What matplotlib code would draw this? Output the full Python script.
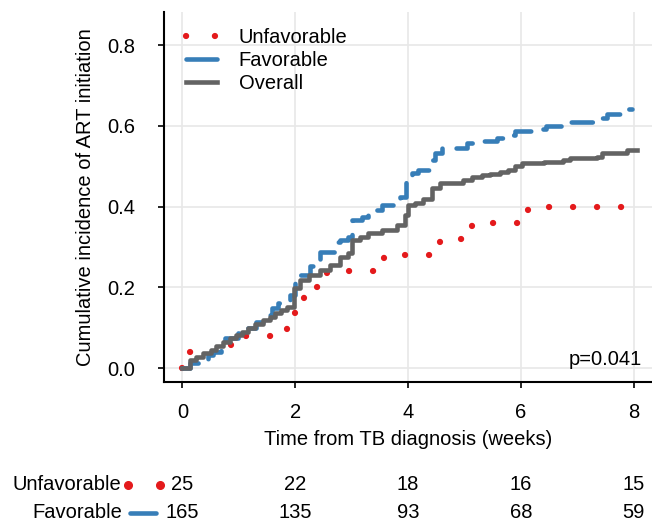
import matplotlib
matplotlib.use("Agg")
import matplotlib.pyplot as plt
import matplotlib.transforms as mtransforms
from matplotlib.lines import Line2D

plt.rcParams["font.family"] = ["Liberation Sans", "DejaVu Sans"]

# кривые кумулятивной частоты (ступенчатые, время в неделях)
unfav_t = [0, 0.14, 0.86, 1.86, 2.0, 2.15, 2.57, 3.58, 4.57, 5.14, 6.13, 7.9]
unfav_v = [0, 0.04, 0.08, 0.12, 0.16, 0.20, 0.24, 0.28, 0.32, 0.36, 0.40, 0.40]

fav_t = [0, 0.13, 0.3, 0.45, 0.55, 0.69, 0.75, 0.99, 1.13, 1.3, 1.46, 1.58, 1.7, 1.9,
         2.0, 2.26, 2.44, 2.73, 2.79, 2.94, 3.0, 3.18, 3.29, 3.53, 3.85, 3.97, 4.06,
         4.18, 4.42, 4.48, 4.6, 5.04, 5.28, 5.57, 5.75, 5.89, 6.19, 6.45, 6.84, 7.31,
         7.52, 7.87, 7.96]
fav_v = [0, 0.012, 0.024, 0.034, 0.041, 0.058, 0.074, 0.087, 0.099, 0.115, 0.132, 0.149,
         0.161, 0.181, 0.231, 0.252, 0.289, 0.313, 0.318, 0.326, 0.367, 0.375, 0.392,
         0.404, 0.425, 0.47, 0.483, 0.49, 0.516, 0.532, 0.545, 0.557, 0.563, 0.57,
         0.578, 0.588, 0.592, 0.6, 0.61, 0.619, 0.63, 0.641, 0.641]

all_t = [0, 0.13, 0.25, 0.37, 0.5, 0.6, 0.72, 0.84, 0.95, 1.05, 1.17, 1.29, 1.42, 1.55,
         1.65, 1.75, 1.85, 1.97, 2.09, 2.25, 2.44, 2.62, 2.79, 2.94, 3.0, 3.15, 3.29,
         3.53, 3.8, 3.94, 3.99, 4.12, 4.26, 4.42, 4.57, 4.98, 5.13, 5.3, 5.45, 5.63,
         5.77, 5.89, 6.01, 6.4, 6.75, 6.87, 7.34, 7.43, 7.87, 8.05]
all_v = [0, 0.02, 0.028, 0.037, 0.046, 0.054, 0.064, 0.074, 0.082, 0.09, 0.10, 0.11,
         0.12, 0.128, 0.136, 0.145, 0.152, 0.198, 0.218, 0.231, 0.243, 0.256, 0.276,
         0.285, 0.318, 0.326, 0.334, 0.342, 0.355, 0.38, 0.404, 0.408, 0.42, 0.446,
         0.458, 0.466, 0.474, 0.478, 0.482, 0.487, 0.49, 0.50, 0.507, 0.511, 0.516,
         0.52, 0.524, 0.532, 0.54, 0.54]

# таблица числа под риском
risk_times = [0, 2, 4, 6, 8]
risk_unfav = [25, 22, 18, 16, 15]
risk_fav = [165, 135, 93, 68, 59]

red = "#E41A1C"
blue = "#377EB8"
grey = "#636363"
fs = 14.5

fig = plt.figure(figsize=(6.52, 5.24), dpi=100)
ax = fig.add_axes([164 / 652, 1 - 382 / 524, 488 / 652, 370 / 524])

ax.step(unfav_t, unfav_v, where="post", color=red, lw=4.5, dashes=(0.02, 3.82),
        dash_capstyle="round", label="Unfavorable", zorder=3)
ax.step(fav_t, fav_v, where="post", color=blue, lw=3.3, dashes=(4.6, 3.1),
        dash_capstyle="round", label="Favorable", zorder=4)
ax.step(all_t, all_v, where="post", color=grey, lw=3.3, label="Overall", zorder=5)

ax.set_xlim(-0.325, 8.32)
ax.set_ylim(-0.034, 0.882)
ax.set_xticks([0, 2, 4, 6, 8])
ax.set_yticks([0.0, 0.2, 0.4, 0.6, 0.8])
ax.set_yticklabels(["0.0", "0.2", "0.4", "0.6", "0.8"])
ax.grid(True, color="#e8e8e8", lw=1.2)
ax.set_axisbelow(True)
for s in ["top", "right"]:
    ax.spines[s].set_visible(False)
for s in ["left", "bottom"]:
    ax.spines[s].set_linewidth(1.5)
ax.tick_params(axis="x", length=4.5, width=1.2, pad=10.5, labelsize=fs)
ax.tick_params(axis="y", length=4, width=1.2, pad=16.5, labelsize=fs)

ax.set_xlabel("Time from TB diagnosis (weeks)", fontsize=fs)
ax.xaxis.set_label_coords(0.5, -0.13)
ax.set_ylabel("Cumulative incidence of ART initiation", fontsize=fs)
ax.yaxis.set_label_coords(-0.142, 0.5)

ax.text(0.98, 0.06, "p=0.041", transform=ax.transAxes, ha="right", va="center",
        fontsize=fs)

leg = ax.legend(loc="upper left", bbox_to_anchor=(186 / 652, 1 - 28 / 524),
                bbox_transform=fig.transFigure, frameon=False, fontsize=fs,
                borderpad=0, borderaxespad=0, handlelength=1.52, handletextpad=1.1,
                labelspacing=0.2)
leg_lines = leg.get_lines()
leg_lines[0].set_dashes((0.02, 4.6))
leg_lines[1].set_linestyle("-")
leg_lines[1].set_solid_capstyle("round")

# таблица под графиком
tr = mtransforms.blended_transform_factory(ax.transData, fig.transFigure)
row_y = [1 - 485 / 524, 1 - 513 / 524]
for t, n in zip(risk_times, risk_unfav):
    fig.text(t, row_y[0], str(n), transform=tr, ha="center", va="center", fontsize=fs)
for t, n in zip(risk_times, risk_fav):
    fig.text(t, row_y[1], str(n), transform=tr, ha="center", va="center", fontsize=fs)

fig.text(121 / 652, row_y[0], "Unfavorable", ha="right", va="center", fontsize=fs)
fig.text(122 / 652, row_y[1], "Favorable", ha="right", va="center", fontsize=fs)
fig.add_artist(Line2D([128 / 652, 160 / 652], [row_y[0], row_y[0]], color=red,
                      marker="o", markersize=5.5, linestyle="none",
                      transform=fig.transFigure))
fig.add_artist(Line2D([130 / 652, 156 / 652], [row_y[1], row_y[1]], color=blue,
                      lw=3.3, solid_capstyle="round", transform=fig.transFigure))

fig.savefig("out.png", dpi=100)
